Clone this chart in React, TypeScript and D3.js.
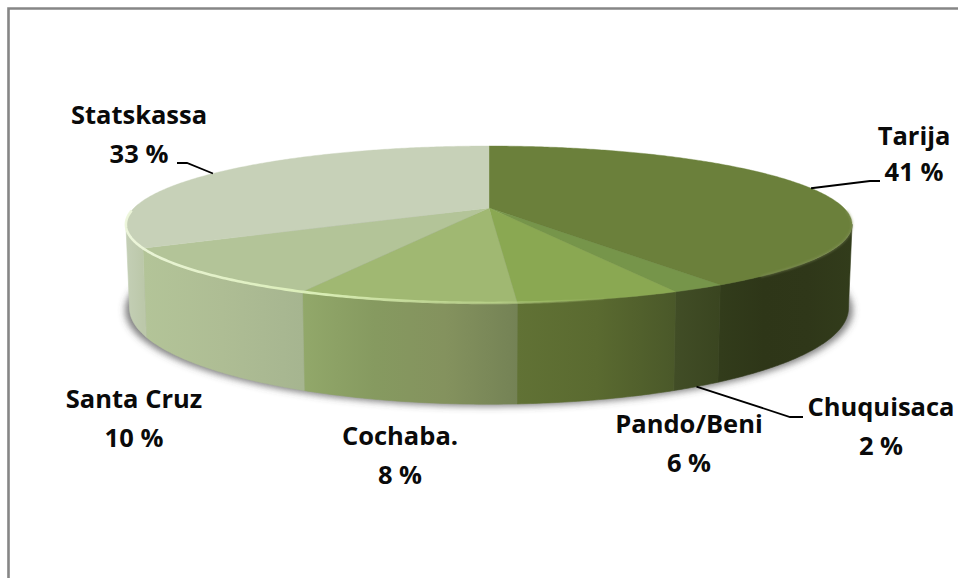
import * as d3 from 'd3';

// ---- data ----
const regions = ['Tarija', 'Chuquisaca', 'Pando/Beni', 'Cochaba.', 'Santa Cruz', 'Statskassa'];
const shares = [41, 2, 6, 8, 10, 33];

const topColors = ['#6b803b', '#76954a', '#8aa852', '#a0b872', '#b3c498', '#c7d1b8'];
const wallStops = [
  ['#323c1b', '#2e3618', '#2f3719', '#323c1b'],
  ['#414d26', '#3a4520'],
  ['#617235', '#5a6a30', '#4a5829'],
  ['#92a86a', '#869a60', '#84925e', '#748255'],
  ['#b3c498', '#aebd94', '#a6b590'],
  ['#c4cfb6', '#bcc8aa'],
];

// label layout: text centre, baselines
const labelX = [914, 881, 689, 400, 134, 139];
const labelY = [145, 416, 433, 445, 408, 124];
const valueY = [181, 455, 472, 484, 447, 163];

const width = 958;
const height = 578;

// perspective disc
const cx = 489;
const cy = 208;
const rx = 355;
const ry = 75;
const persp = 0.21;
const depth = 80;

const toScreen = (a: number, bottom = false) => {
  const u = Math.sin(a);
  const v = -Math.cos(a);
  const s = 1 / (1 - persp * v);
  const k = bottom ? 0.99 : 1;
  return [cx + rx * u * s * k, cy + ry * v * s + (bottom ? depth * s : 0)] as [number, number];
};

const arcPoints = (a0: number, a1: number, bottom = false) => {
  const n = Math.max(2, Math.ceil(Math.abs(a1 - a0) / 0.01));
  return d3.range(n + 1).map((i) => toScreen(a0 + ((a1 - a0) * i) / n, bottom));
};

const line = d3.line();
const rad = (deg: number) => (deg * Math.PI) / 180;

const arcs = d3.pie<number>().sort(null).value((d) => d)(shares);

const wallFrom = rad(102);
const wallTo = rad(258);

// leader lines run from the rim at the slice's middle angle
const leaders: { slice: number; bottom: boolean; via: [number, number][] }[] = [
  { slice: 0, bottom: false, via: [[870, 181], [880, 181]] },
  { slice: 1, bottom: true, via: [[790, 417], [803, 417]] },
  { slice: 5, bottom: false, via: [[187, 163], [177, 163]] },
];

export default function App() {
  const midAngle = (i: number) => (arcs[i].startAngle + arcs[i].endAngle) / 2;
  const rimFull = arcPoints(0, Math.PI * 2, true);

  return (
    <svg
      width={width}
      height={height}
      viewBox={`0 0 ${width} ${height}`}
      style={{ position: 'absolute', left: 0, top: 0, display: 'block', background: '#fff' }}
    >
      <defs>
        <filter id="shadowBlur" x="-10%" y="-20%" width="120%" height="140%">
          <feGaussianBlur stdDeviation="3.5" />
        </filter>
        <filter id="softEdge" x="-5%" y="-20%" width="110%" height="140%">
          <feGaussianBlur stdDeviation="1" />
        </filter>
        {arcs.map((d, i) => {
          const a0 = Math.max(d.startAngle, wallFrom);
          const a1 = Math.min(d.endAngle, wallTo);
          if (a1 <= a0) return null;
          const x0 = toScreen(a0)[0];
          const x1 = toScreen(a1)[0];
          const stops = wallStops[i];
          return (
            <linearGradient key={i} id={`wall${i}`} gradientUnits="userSpaceOnUse" x1={x1} y1={0} x2={x0} y2={0}>
              {stops.map((c, j) => (
                <stop key={j} offset={j / (stops.length - 1)} stopColor={c} />
              ))}
            </linearGradient>
          );
        })}
        <linearGradient id="rimLight" gradientUnits="userSpaceOnUse" x1={126} y1={0} x2={620} y2={0}>
          <stop offset="0" stopColor="#eef7dc" stopOpacity="0.95" />
          <stop offset="0.4" stopColor="#dcf0b8" stopOpacity="0.95" />
          <stop offset="0.75" stopColor="#c4dc94" stopOpacity="0.6" />
          <stop offset="1" stopColor="#a8c070" stopOpacity="0" />
        </linearGradient>
      </defs>

      {/* frame */}
      <path d={`M8.5,${height}V8.5H${width}`} fill="none" stroke="#868686" strokeWidth={2.6} />

      {/* shadow under the disc */}
      <path
        d={line(rimFull) + 'Z'}
        fill="#4a4a4a"
        fillOpacity={0.7}
        filter="url(#shadowBlur)"
        transform={`translate(${cx} ${cy + 2}) scale(1.012 1) translate(${-cx} ${-cy})`}
      />

      {/* outer walls */}
      {arcs.map((d, i) => {
        const a0 = Math.max(d.startAngle, wallFrom);
        const a1 = Math.min(d.endAngle, wallTo);
        if (a1 <= a0) return null;
        const pts = [...arcPoints(a0, a1), ...arcPoints(a1, a0, true)];
        return <path key={i} d={line(pts) + 'Z'} fill={`url(#wall${i})`} stroke={`url(#wall${i})`} strokeWidth={0.6} />;
      })}

      {/* top faces */}
      {arcs.map((d, i) => (
        <path
          key={i}
          d={line([[cx, cy], ...arcPoints(d.startAngle, d.endAngle)]) + 'Z'}
          fill={topColors[i]}
          stroke={topColors[i]}
          strokeWidth={0.4}
        />
      ))}

      {/* bevel along the rim */}
      <path
        d={line(arcPoints(rad(92), rad(140))) as string}
        fill="none"
        stroke="#8f9c66"
        strokeOpacity={0.55}
        strokeWidth={1.6}
        filter="url(#softEdge)"
      />
      <path
        d={line(arcPoints(rad(268), rad(165))) as string}
        fill="none"
        stroke="url(#rimLight)"
        strokeWidth={2.6}
      />

      {/* leader lines */}
      {leaders.map((l) => (
        <path
          key={l.slice}
          d={line([toScreen(midAngle(l.slice), l.bottom), ...l.via]) as string}
          fill="none"
          stroke="#000"
          strokeWidth={1.8}
        />
      ))}

      {/* labels */}
      <g fontFamily="'Open Sans', sans-serif" fontWeight={700} fontSize={25.5} fill="#0a0a0a" textAnchor="middle">
        {regions.map((name, i) => (
          <g key={name}>
            <text x={labelX[i]} y={labelY[i]}>{name}</text>
            <text x={labelX[i]} y={valueY[i]}>{`${shares[i]} %`}</text>
          </g>
        ))}
      </g>
    </svg>
  );
}
